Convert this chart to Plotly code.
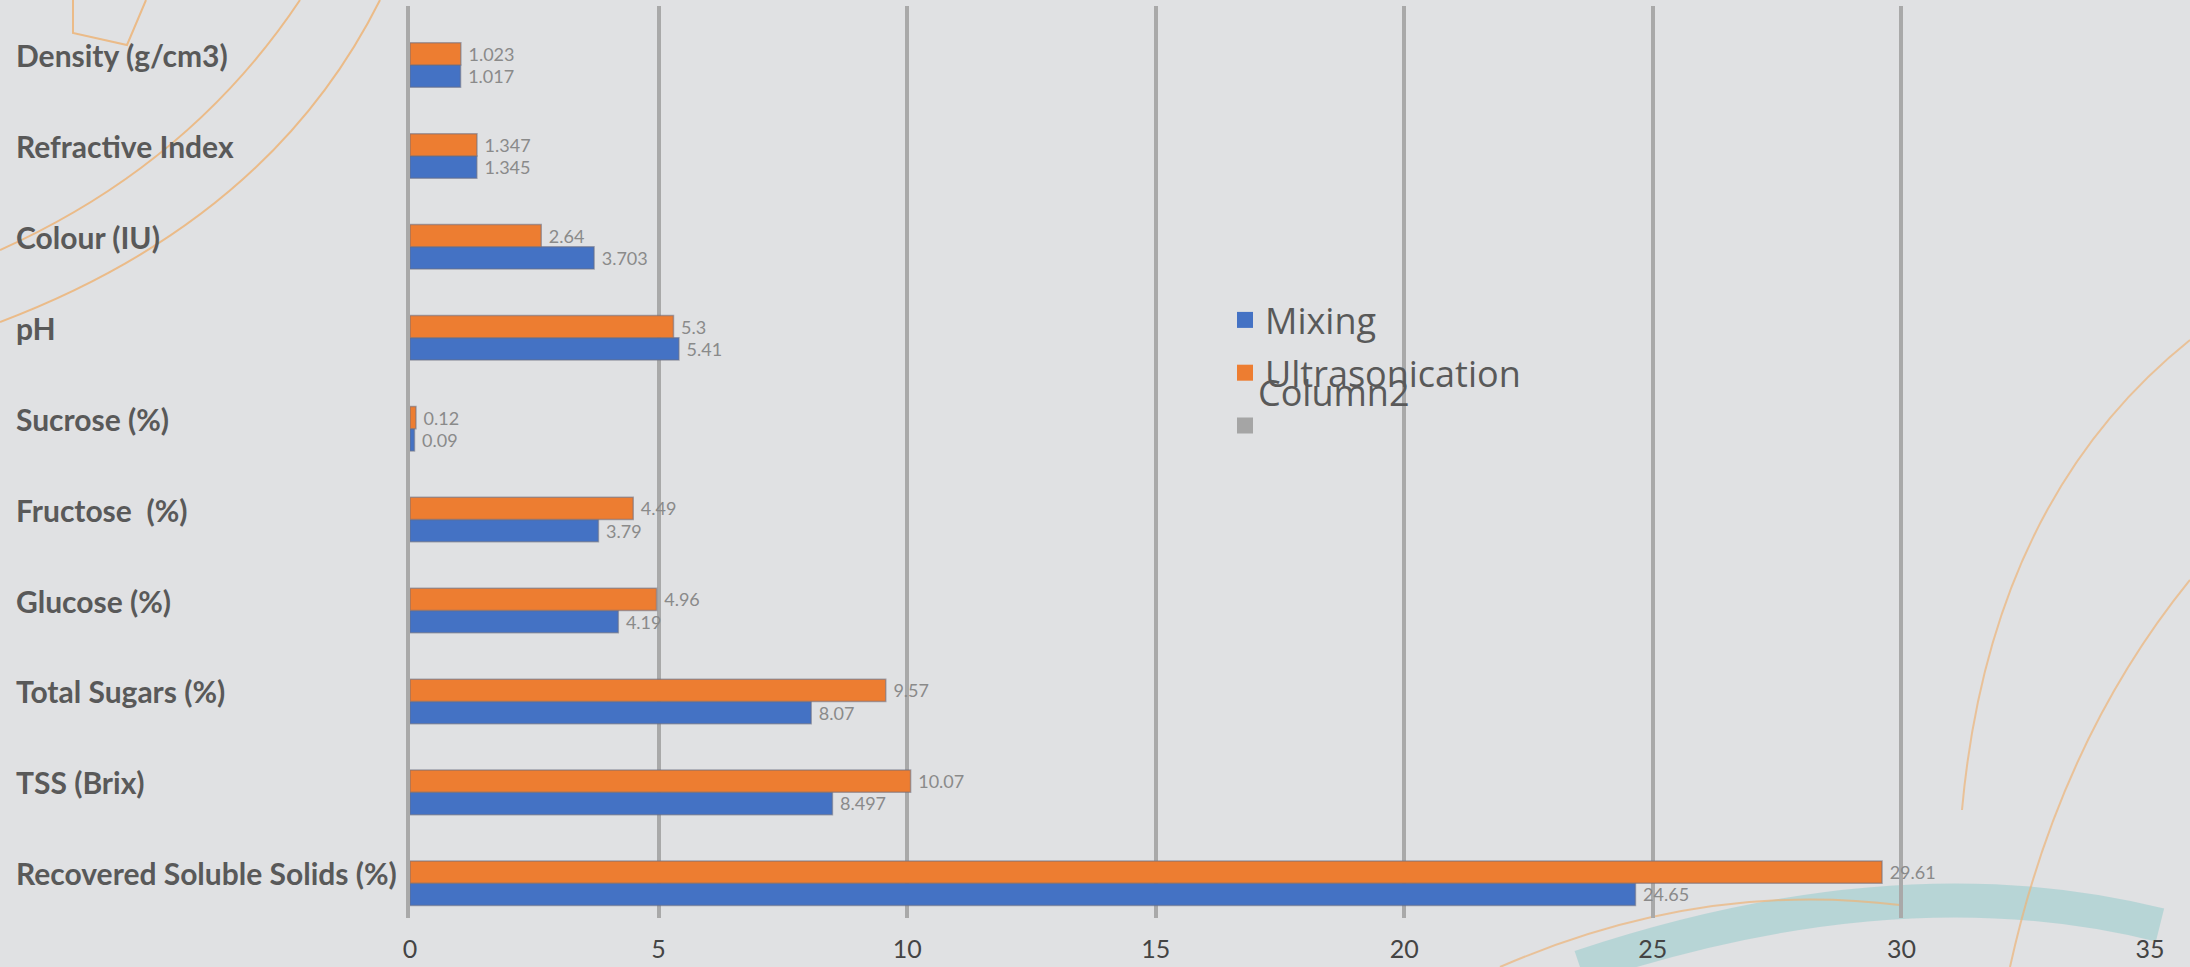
import plotly.graph_objects as go

# ---------------- data (top-to-bottom as in the reference) ----------------
categories = [
    "Density (g/cm3)", "Refractive Index", "Colour (IU)", "pH", "Sucrose (%)",
    "Fructose  (%)", "Glucose (%)", "Total Sugars (%)", "TSS (Brix)",
    "Recovered Soluble Solids (%)",
]
mixing = [1.017, 1.345, 3.703, 5.41, 0.09, 3.79, 4.19, 8.07, 8.497, 24.65]
ultrasonication = [1.023, 1.347, 2.64, 5.3, 0.12, 4.49, 4.96, 9.57, 10.07, 29.61]
series_names = ["Mixing", "Ultrasonication", "Column2"]
x_ticks = [0, 5, 10, 15, 20, 25, 30, 35]

# ---------------- styling ----------------
W, H = 2190, 967
L, R, T, B = 410, 2150, 6, 918
BLUE, ORANGE, GRAY = "#4472C4", "#ED7D31", "#A5A5A5"
BG = "#e0e1e3"
TEXT = "#595959"

def px(x):
    return (x - L) / (R - L)

def py(y):
    return (B - y) / (B - T)

cats_b = categories[::-1]
mix_b = mixing[::-1]
ult_b = ultrasonication[::-1]

fig = go.Figure()
bar_line = dict(color="rgba(105,110,130,0.55)", width=1.5)
label_font = dict(family="Lato", size=18, color="#8a8a8a")
fig.add_trace(go.Bar(
    y=cats_b, x=mix_b, orientation="h", name=series_names[0],
    marker=dict(color=BLUE, line=bar_line), showlegend=False,
    text=["\u00a0" + str(v) for v in mix_b], textposition="outside",
    textfont=label_font, cliponaxis=False, constraintext="none",
))
fig.add_trace(go.Bar(
    y=cats_b, x=ult_b, orientation="h", name=series_names[1],
    marker=dict(color=ORANGE, line=bar_line), showlegend=False,
    text=["\u00a0" + str(v) for v in ult_b], textposition="outside",
    textfont=label_font, cliponaxis=False, constraintext="none",
))

# legend entries (square swatches)
for i, (nm, col) in enumerate(zip(series_names, [BLUE, ORANGE, GRAY])):
    fig.add_trace(go.Scatter(
        x=[None], y=[None], mode="markers", name=(nm if i < 2 else " "),
        legendgroup=f"g{i}",
        marker=dict(symbol="square", size=20, color=col),
    ))

# category labels, left aligned
for c in categories:
    fig.add_annotation(
        x=px(14), xref="paper", y=c, yref="y", text=c, showarrow=False,
        xanchor="left", yanchor="middle", yshift=10,
        font=dict(family="Lato", size=30, color=TEXT, weight="bold"),
    )

# overlapping "Column2" legend text (as in the reference)
fig.add_annotation(
    x=px(1256), xref="paper", y=py(393), yref="paper", text="Column2",
    showarrow=False, xanchor="left", yanchor="middle",
    font=dict(family="Open Sans", size=36, color=TEXT),
)

def P(x, y):
    return f"{px(x):.5f},{py(y):.5f}"

deco_paths = [
    ("M" + P(0, 250) + " Q" + P(190, 165) + " " + P(300, 0), "rgba(236,180,120,0.85)", 2),
    ("M" + P(0, 322) + " Q" + P(270, 220) + " " + P(380, 0), "rgba(236,180,120,0.85)", 2),
    ("M" + P(73, 0) + " L" + P(73, 33) + " L" + P(127, 45) + " L" + P(146, 0), "rgba(236,180,120,0.85)", 2),
    ("M" + P(1580, 967) + " Q" + P(1900, 860) + " " + P(2160, 925), "rgba(170,208,210,0.75)", 34),
    ("M" + P(1500, 967) + " Q" + P(1700, 880) + " " + P(1900, 905), "rgba(236,180,120,0.7)", 2),
    ("M" + P(1962, 810) + " Q" + P(1990, 500) + " " + P(2190, 340), "rgba(236,180,120,0.7)", 2),
    ("M" + P(2010, 967) + " Q" + P(2060, 740) + " " + P(2190, 580), "rgba(236,180,120,0.7)", 2),
]
for d, col, w in deco_paths:
    fig.add_shape(type="path", path=d, xref="paper", yref="paper",
                  line=dict(color=col, width=w), layer="below")

n = len(categories)
fig.update_layout(
    width=W, height=H,
    margin=dict(l=L, r=W - R, t=T, b=H - B, pad=0, autoexpand=False),
    paper_bgcolor=BG, plot_bgcolor="rgba(0,0,0,0)",
    barmode="group", bargap=0.51, bargroupgap=0.0,
    showlegend=True,
    legend=dict(
        x=px(1225), y=py(290), xanchor="left", yanchor="top",
        bgcolor="rgba(0,0,0,0)", borderwidth=0,
        font=dict(family="Open Sans", size=36, color=TEXT),
        tracegroupgap=3, itemwidth=30,
    ),
    xaxis=dict(
        range=[0, 35], tickvals=x_ticks, ticktext=[str(t) for t in x_ticks],
        showgrid=True, gridcolor="#a9a9a9", gridwidth=3.5,
        zeroline=False, showline=False,
        ticks="outside", ticklen=9, tickcolor="rgba(0,0,0,0)",
        tickfont=dict(family="Lato", size=25, color="#444444"),
        fixedrange=True,
    ),
    yaxis=dict(
        type="category", categoryorder="array", categoryarray=cats_b,
        range=[-0.382, n - 1 + 0.649],
        showticklabels=False, showgrid=False, zeroline=False,
        showline=True, linecolor="#a9a9a9", linewidth=3.5,
        ticks="", fixedrange=True,
    ),
    font=dict(family="Lato", color=TEXT),
)

fig.write_html("out.html")
